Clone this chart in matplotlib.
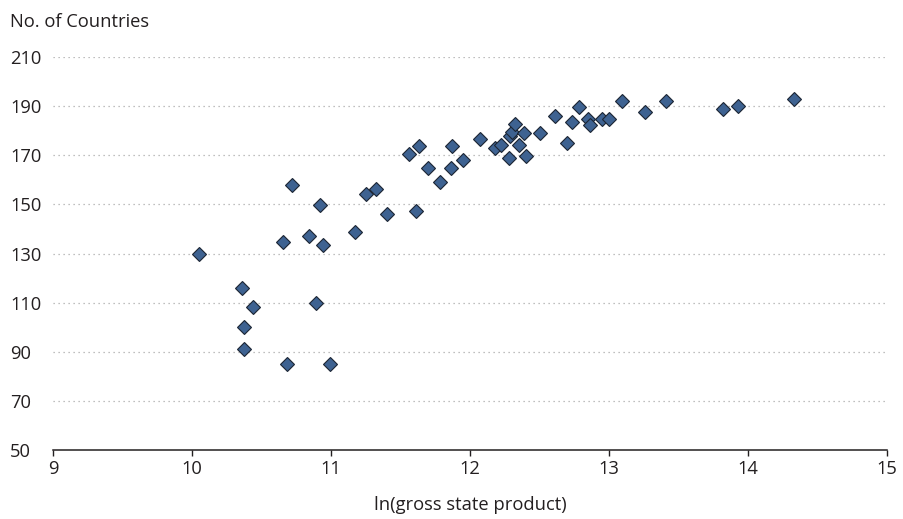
import matplotlib
matplotlib.use("Agg")
import matplotlib.pyplot as plt

# Data
ln_gsp = [10.05, 10.36, 10.44, 10.37, 10.37, 10.68, 10.99, 10.89, 10.65, 10.84,
          10.94, 11.17, 10.72, 10.92, 11.25, 11.32, 11.40, 11.61, 11.70, 11.78,
          11.56, 11.63, 11.86, 11.87, 11.95, 12.07, 12.18, 12.22, 12.28, 12.29,
          12.30, 12.32, 12.35, 12.39, 12.40, 12.50, 12.61, 12.70, 12.73, 12.78,
          12.85, 12.86, 12.95, 13.00, 13.09, 13.26, 13.41, 13.82, 13.93, 14.33]
n_countries = [129.9, 116.2, 108.1, 100.1, 91.1, 85.1, 85.1, 109.9, 134.9, 137.3,
               133.6, 139.0, 158.0, 149.9, 154.4, 156.5, 146.2, 147.4, 164.8, 159.0,
               170.6, 173.9, 164.8, 173.9, 168.2, 176.7, 173.0, 174.2, 168.9, 178.0,
               179.3, 182.7, 174.3, 179.1, 169.8, 179.1, 185.8, 175.0, 183.5, 189.5,
               184.9, 182.2, 184.9, 184.8, 192.3, 187.6, 192.2, 188.8, 189.9, 192.9]

x_ticks = [9, 10, 11, 12, 13, 14, 15]
y_ticks = [50, 70, 90, 110, 130, 150, 170, 190, 210]
x_label = "ln(gross state product)"
y_label = "No. of Countries"

plt.rcParams['font.family'] = ['Open Sans', 'DejaVu Sans']
FS = 13.2
TXT = '#231F20'

fig = plt.figure(figsize=(9.04, 5.19), dpi=100)
ax = fig.add_axes([53.3 / 904, 1 - 450.3 / 519, (887 - 53.3) / 904, (450.3 - 57) / 519])

ax.plot(ln_gsp, n_countries, linestyle='none', marker='D', ms=7.0,
        markerfacecolor='#3E6291', markeredgecolor='#1C2533', markeredgewidth=0.8,
        clip_on=False, zorder=3)

ax.set_xlim(9, 15)
ax.set_ylim(50, 210)
ax.set_xticks(x_ticks)
ax.set_yticks(y_ticks)
ax.set_xticklabels([str(v) for v in x_ticks])
ax.set_yticklabels([str(v) for v in y_ticks])

for s in ['top', 'right', 'left']:
    ax.spines[s].set_visible(False)
ax.spines['bottom'].set_linewidth(1.1)
ax.spines['bottom'].set_color(TXT)

ax.tick_params(axis='x', direction='out', length=4, width=1.0, color=TXT,
               labelsize=FS, labelcolor=TXT, pad=3)
ax.tick_params(axis='y', length=0, labelsize=FS, labelcolor=TXT, pad=31)
for lab in ax.get_yticklabels():
    lab.set_horizontalalignment('left')

ax.yaxis.grid(True, linestyle=(0, (1, 3)), color='#AAAAAA', linewidth=0.9)
ax.set_axisbelow(True)
ax.get_ygridlines()[0].set_visible(False)

fig.text(10 / 904, 1 - 22 / 519, y_label, fontsize=FS, color=TXT,
         ha='left', va='center')
fig.text(470 / 904, 1 - 505 / 519, x_label, fontsize=FS, color=TXT,
         ha='center', va='center')

fig.savefig("out.png", dpi=100)
